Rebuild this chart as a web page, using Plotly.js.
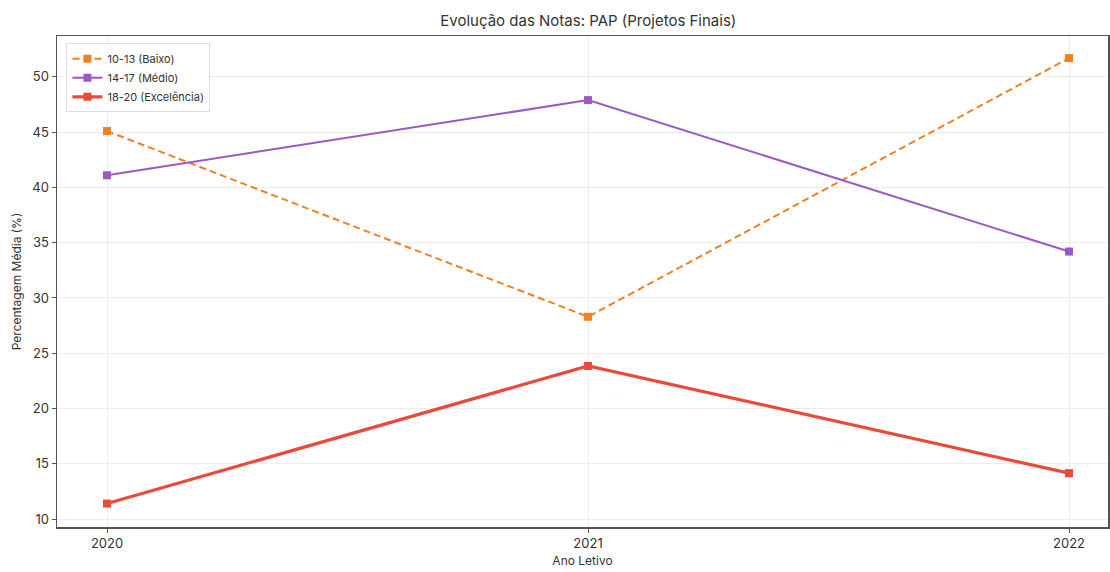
<!DOCTYPE html>
<html>
<head>
<meta charset="utf-8">
<script src="https://cdn.plot.ly/plotly-3.0.1.min.js"></script>
<style>html,body{margin:0;padding:0;background:#fff;}#chart{width:1110px;height:572px;}</style>
</head>
<body>
<div id="chart"></div>
<script>
const years = [2020, 2021, 2022];
const baixo = [45.1, 28.3, 51.7];
const medio = [41.1, 47.9, 34.2];
const excelencia = [11.4, 23.85, 14.15];
const seriesNames = ["10-13 (Baixo)", "14-17 (Médio)", "18-20 (Excelência)"];

const font = "Inter, 'Open Sans', sans-serif";
const traces = [
  {x: years, y: baixo, name: seriesNames[0], mode: "lines+markers",
   line: {color: "#ee8122", width: 2, dash: "7px,4px"}, marker: {symbol: "square", size: 8, color: "#ee8122"}},
  {x: years, y: medio, name: seriesNames[1], mode: "lines+markers",
   line: {color: "#9b59c6", width: 2}, marker: {symbol: "square", size: 8, color: "#9b59c6"}},
  {x: years, y: excelencia, name: seriesNames[2], mode: "lines+markers",
   line: {color: "#ea4a3a", width: 3.2}, marker: {symbol: "square", size: 8, color: "#ea4a3a"}}
];
const layout = {
  width: 1110, height: 572,
  margin: {l: 57, r: 2, t: 36, b: 45},
  paper_bgcolor: "#fff", plot_bgcolor: "#fff",
  font: {family: font, color: "#333"},
  title: {text: "Evolução das Notas: PAP (Projetos Finais)", font: {size: 15, color: "#333"}, x: 0.53, xanchor: "center", y: 0.963, yanchor: "middle"},
  xaxis: {range: [2019.896, 2022.081], tickvals: years, ticktext: years.map(String),
    showgrid: true, gridcolor: "#ececec", gridwidth: 1, zeroline: false,
    showline: true, linecolor: "#555", linewidth: 1.5, mirror: true,
    ticks: "outside", ticklen: 4, tickcolor: "#555", tickfont: {size: 13, color: "#333"},
    title: {text: "Ano Letivo", font: {size: 12, color: "#333"}, standoff: 6}},
  yaxis: {range: [9.28, 53.7], tickvals: [10,15,20,25,30,35,40,45,50],
    showgrid: true, gridcolor: "#ececec", gridwidth: 1, zeroline: false,
    showline: true, linecolor: "#555", linewidth: 1.5, mirror: true,
    ticks: "outside", ticklen: 4, tickcolor: "#555", tickfont: {size: 13, color: "#333"},
    title: {text: "Percentagem Média (%)", font: {size: 12, color: "#333"}, standoff: 8}},
  legend: {x: 0.009, y: 0.985, xanchor: "left", yanchor: "top", bgcolor: "rgba(255,255,255,0.9)",
    bordercolor: "#ddd", borderwidth: 1, font: {size: 11, color: "#333"}, tracegroupgap: 0, itemwidth: 30},
  showlegend: true
};
Plotly.newPlot("chart", traces, layout, {displayModeBar: false, staticPlot: true});
</script>
</body>
</html>
